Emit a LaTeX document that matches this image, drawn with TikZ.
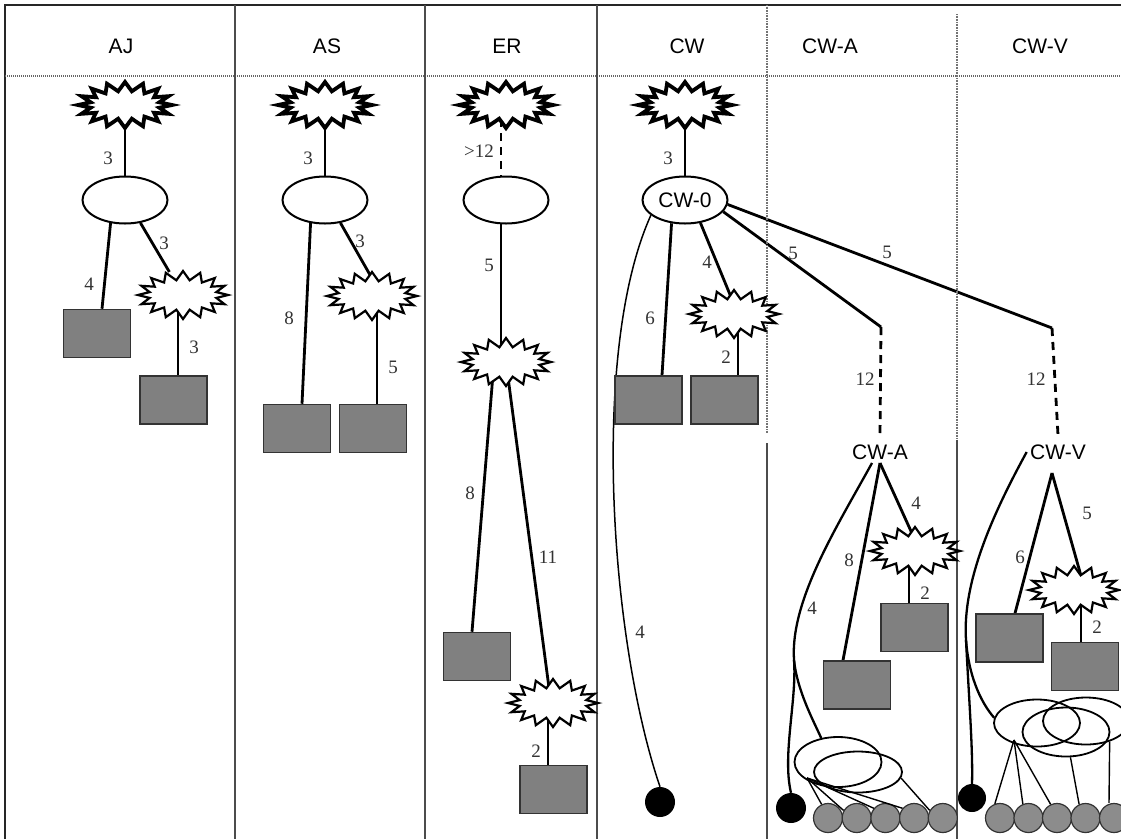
\documentclass[tikz,border=0pt]{standalone}
\usepackage{fontspec}
\setmainfont{Liberation Serif}
\setsansfont{Liberation Sans}
\usetikzlibrary{shapes.geometric,calc}
\pgfdeclarelayer{bg}
\pgfsetlayers{bg,main}
% jagged 16-point burst around a named node:
% #1 node, #2 outer radii, #3 inner radii, #4 style
\newcommand\drawburst[4]{%
  \path[#4] ($(#1)+(0:#2)$)
    \foreach \k in {0,...,15} {
      -- ($(#1)+(\k*22.5+11.25:#3)$) -- ($(#1)+(\k*22.5+22.5:#2)$) }
    -- cycle;}
\begin{document}
\begin{tikzpicture}[x=1pt,y=-1pt,
  conn/.style={line width=2.8pt},
  dashconn/.style={line width=2.8pt, dash pattern=on 8pt off 6pt},
  curve/.style={line width=2.3pt},
  thincurve/.style={line width=1.5pt},
  fan/.style={line width=1.4pt},
  hub/.style={ellipse, inner sep=0pt, minimum width=90pt, minimum height=48pt},
  tophub/.style={hub, minimum width=98pt, minimum height=50pt},
  burstline/.style={draw, line width=2.2pt, fill=white},
  topburstline/.style={draw, line width=3.8pt, fill=white},
  box/.style={rectangle, draw=black!80, line width=1.5pt, fill=black!50,
    minimum width=67pt, minimum height=48pt, inner sep=0pt},
  oval/.style={ellipse, draw, line width=2pt, fill=white, minimum width=85pt,
    minimum height=47pt, inner sep=0pt},
  ring/.style={ellipse, draw, line width=1.8pt, inner sep=0pt},
  blackdot/.style={circle, fill=black, minimum size=30pt, inner sep=0pt},
  ball/.style={circle, draw=black!80, line width=1.2pt, fill=black!45,
    minimum size=29pt, inner sep=0pt},
  num/.style={font=\fontsize{19}{19}\selectfont, text=black!80, inner sep=1pt},
  head/.style={font=\sffamily\fontsize{21}{21}\selectfont},
  sublabel/.style={font=\sffamily\fontsize{21}{21}\selectfont},
  divider/.style={line width=1.6pt, black!70},
  dotdivider/.style={line width=1.2pt, black!55, dash pattern=on 0.8pt off 0.8pt},
]
\clip (0,0) rectangle (1121,839);

% frame, header row and column dividers
\draw[line width=1.8pt, black!85] (5,839) -- (5,5) -- (1121,5);
\draw[line width=1.6pt, black!60, dash pattern=on 1pt off 1pt] (5,76) -- (1121,76);
\foreach \x in {235,425,597} \draw[divider] (\x,5) -- (\x,839);
\draw[dotdivider] (767,5) -- (767,433);
\draw[divider, line width=1.3pt] (767,443) -- (767,839);
\draw[dotdivider] (957,14) -- (957,440);
\draw[divider, line width=1.3pt] (957,440) -- (957,839);

% column titles
\node[head] (hAJ) at (121,46) {AJ};
\node[head] (hAS) at (327,46) {AS};
\node[head] (hER) at (507,46) {ER};
\node[head] (hCW) at (687,46) {CW};
\node[head] (hCWA) at (830,46) {CW-A};
\node[head] (hCWV) at (1040,46) {CW-V};

% ---- AJ ----
\node[tophub] (ajS) at (125,105) {};
\node[oval] (ajE) at (125,200) {};
\node[hub] (ajS2) at (183,295) {};
\node[box] (ajB1) at (97,333.5) {};
\node[box] (ajB2) at (173.5,400) {};

% ---- AS ----
\node[tophub] (asS) at (325,105) {};
\node[oval] (asE) at (325,200) {};
\node[hub] (asS2) at (372,296) {};
\node[box] (asB1) at (297,428.5) {};
\node[box] (asB2) at (373,428.5) {};

% ---- ER ----
\node[tophub] (erS) at (506,105) {};
\node[oval] (erE) at (506,200) {};
\node[hub] (erS2) at (506,362) {};
\node[box] (erB1) at (477,656.5) {};
\node[hub] (erS3) at (553,703) {};
\node[box] (erB2) at (553.5,789.5) {};

% ---- CW ----
\node[tophub] (cwS) at (685,105) {};
\node[oval, font=\sffamily\fontsize{21}{21}\selectfont] (cwE) at (685,200) {CW-0};
\node[hub] (cwS2) at (734,314) {};
\node[box] (cwB1) at (648.5,400) {};
\node[box] (cwB2) at (724.5,400) {};
\node[blackdot] (cwD) at (660,802) {};
\coordinate (aTop) at (881,327);
\coordinate (vTop) at (1052,328);

% ---- CW-A ----
\node[sublabel] (aLab) at (880,452) {CW-A};
\node[hub] (aS) at (915,551) {};
\node[box] (aB1) at (914.5,627.5) {};
\node[box] (aB2) at (857,685) {};
\node[ring, minimum width=87pt, minimum height=50pt] (aE1) at (838,762) {};
\node[ring, minimum width=88pt, minimum height=41pt] (aE2) at (858,772) {};
\node[blackdot] (aD) at (791,808) {};
\foreach \i/\x in {1/828,2/856.7,3/885.4,4/914.1,5/942.8}
  \node[ball] (aC\i) at (\x,818) {};
\coordinate (aFork) at (794,660);
\coordinate (aFan) at (807,778);

% ---- CW-V ----
\node[sublabel] (vLab) at (1058,452) {CW-V};
\coordinate (vApex) at (1052,473);
\node[hub] (vS) at (1074,590) {};
\node[box] (vB1) at (1009.5,638) {};
\node[box] (vB2) at (1085,666.5) {};
\node[ring, minimum width=86pt, minimum height=47pt] (vE1) at (1037,723) {};
\node[ring, minimum width=87pt, minimum height=49pt] (vE2) at (1066,732) {};
\node[ring, minimum width=86pt, minimum height=47pt] (vE3) at (1086,721) {};
\node[blackdot, minimum size=28pt] (vD) at (972,798) {};
\foreach \i/\x in {1/1000,2/1028.5,3/1057,4/1085.5,5/1114}
  \node[ball] (vC\i) at (\x,818) {};
\coordinate (vFork) at (966,640);
\coordinate (vFan) at (1014,740);

% bursts
\foreach \n in {ajS,asS,erS,cwS}
  \drawburst{\n}{47pt and 23pt}{35pt and 14pt}{topburstline};
\foreach \n in {ajS2,asS2,erS2,erS3,cwS2,aS,vS}
  \drawburst{\n}{45pt and 24pt}{34pt and 15pt}{burstline};

% ---- connectors (behind the shapes) ----
\begin{pgfonlayer}{bg}
\fill[white] (0,0) rectangle (1121,839);
% AJ
\draw[conn] (ajS) -- (ajE);
\draw[conn] (ajE.-122) -- ([xshift=5pt]ajB1.north);
\draw[conn] (ajE.-56) -- (ajS2);
\draw[conn] ([xshift=-5pt]ajS2.center) -- ([xshift=4.5pt]ajB2.north);
% AS
\draw[conn] (asS) -- (asE);
\draw[conn] (asE.-122) -- ([xshift=5pt]asB1.north);
\draw[conn] (asE.-56) -- ([xshift=10pt]asS2.center);
\draw[conn] ([xshift=5pt]asS2.center) -- ([xshift=4pt]asB2.north);
% ER
\draw[dashconn] ([xshift=-5pt]erS.center) -- ([xshift=-5pt]erE.center);
\draw[conn] ([xshift=-5pt]erE.center) -- ([xshift=-5pt]erS2.center);
\draw[conn] ([xshift=-12pt]erS2.center) -- ([xshift=-5pt]erB1.north);
\draw[conn] (erS2.center) -- ([xshift=-2pt]erS3.center);
\draw[conn] ([xshift=-5pt]erS3.center) -- ([xshift=-5.5pt]erB2.north);
% CW
\draw[conn] (cwS) -- (cwE);
\draw[conn] (cwE.-120) -- ([xshift=13.5pt]cwB1.north);
\draw[conn] (cwE.-56) -- ([xshift=4pt]cwS2.center);
\draw[conn] ([xshift=4pt]cwS2.center) -- ([xshift=13.5pt]cwB2.north);
\draw[thincurve] (cwE.-156) .. controls (590,350) and (610,640) .. (cwD.north);
\draw[conn] (cwE.-17) -- (aTop);
\draw[conn] (cwE.-6) -- (vTop);
\draw[dashconn] (aTop) -- ([yshift=6pt]aLab.north);
\draw[dashconn] (vTop) -- ([yshift=6pt]vLab.north);
% CW-A
\draw[conn] (aLab.south) -- ([xshift=-14pt]aB2.north);
\draw[conn] (aLab.south) -- ([xshift=5pt]aS.center);
\draw[conn] ([xshift=-6pt]aS.center) -- ([xshift=-5.5pt]aB1.north);
\draw[curve] ([xshift=-8pt]aLab.south) .. controls (838,525) and (790,600) .. (aFork)
  .. controls (797,700) and (782,755) .. (aD.north);
\draw[curve] (aFork) .. controls (797,690) and (813,720) .. (aE1.125);
% CW-V
\draw[conn] (vApex) -- ([xshift=5.5pt]vB1.north);
\draw[conn] (vApex) -- ([xshift=11pt]vS.center);
\draw[conn] ([xshift=7pt]vS.center) -- ([xshift=-4pt]vB2.north);
\draw[curve] (vLab.west) .. controls (995,510) and (962,580) .. (vFork)
  .. controls (969,700) and (973,750) .. (vD.north);
\draw[curve] (vFork) .. controls (969,680) and (983,705) .. (vE1.173);
\end{pgfonlayer}

% fan lines from the ring groups to the row of balls
\draw[fan] (aFan) -- (aC1.115);
\draw[fan] (aFan) -- (aC2.150);
\draw[fan] (aFan) -- (aC3.140);
\draw[fan] (aFan) -- (aC4.140);
\draw[fan] (aE2.-8) -- (aC5.150);
\draw[fan] (vFan) -- (vC1.110);
\draw[fan] (vFan) -- (vC2.112);
\draw[fan] (vFan) -- (vC3.115);
\draw[fan] (vE2.-80) -- (vC4.115);
\draw[fan] (vE3.-41) -- ([xshift=-5pt]vC5.north);

% edge weights
\node[num] (l1) at (108,158) {3};
\node[num] (l2) at (89,284) {4};
\node[num] (l3) at (164,243) {3};
\node[num] (l4) at (194,347) {3};
\node[num] (l5) at (308,158) {3};
\node[num] (l6) at (360,241) {3};
\node[num] (l7) at (289,318) {8};
\node[num] (l8) at (393,367) {5};
\node[num] (l9) at (479,151) {>12};
\node[num] (l10) at (489,265) {5};
\node[num] (l11) at (470,493) {8};
\node[num] (l12) at (548,557) {11};
\node[num] (l13) at (536,751) {2};
\node[num] (l14) at (668,158) {3};
\node[num] (l15) at (650,318) {6};
\node[num] (l16) at (707,262) {4};
\node[num] (l17) at (726,357) {2};
\node[num] (l18) at (793,253) {5};
\node[num] (l19) at (887,252) {5};
\node[num] (l20) at (865,379) {12};
\node[num] (l21) at (1036,379) {12};
\node[num] (l22) at (640,632) {4};
\node[num] (l23) at (849,560) {8};
\node[num] (l24) at (916,503) {4};
\node[num] (l25) at (925,593) {2};
\node[num] (l26) at (812,608) {4};
\node[num] (l27) at (1020,557) {6};
\node[num] (l28) at (1087,513) {5};
\node[num] (l29) at (1097,627) {2};
\end{tikzpicture}
\end{document}
